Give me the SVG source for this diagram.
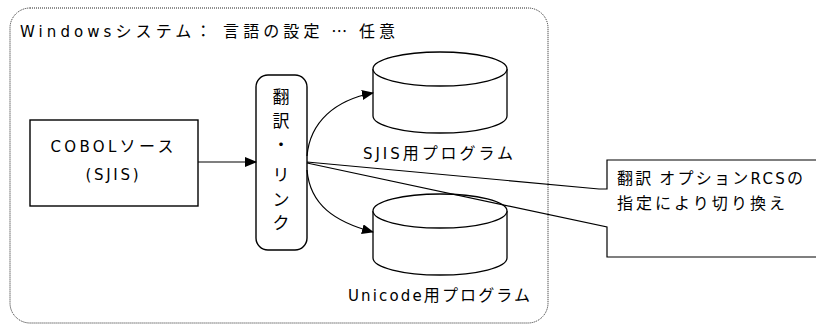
<svg xmlns="http://www.w3.org/2000/svg" width="816" height="326" viewBox="0 0 816 326">
<defs>
<marker id="ah" markerWidth="12" markerHeight="10" refX="11" refY="5" orient="auto" markerUnits="userSpaceOnUse">
<path d="M0,0 L12,5 L0,10 Z" fill="#000"/>
</marker>
<style>
text{font-family:"DejaVu Sans","Noto Sans CJK JP",sans-serif;font-size:15px;fill:#000}
.j{font-family:"Noto Sans CJK JP",sans-serif;font-size:16px}
.c{text-anchor:middle}
.v{font-size:17px}
.box{fill:#fff;stroke:#000;stroke-width:1.4}
.ln{fill:none;stroke:#000;stroke-width:1.2}
.cyl{fill:#fff;stroke:#000;stroke-width:1.3}
</style>
</defs>
<rect x="10" y="8" width="538" height="315" rx="20" ry="20" fill="none" stroke="#222" stroke-width="1" stroke-dasharray="1 1"/>
<text x="20" y="37" textLength="375" lengthAdjust="spacing">Windows<tspan class="j">システム： 言語の設定 … 任意</tspan></text>

<g id="cobol">
<rect class="box" x="30" y="120" width="168" height="86"/>
<text class="c" x="112" y="152" textLength="123" lengthAdjust="spacing">COBOL<tspan class="j">ソース</tspan></text>
<text class="c" x="112" y="180" textLength="53" lengthAdjust="spacing">(SJIS)</text>
</g>

<g id="link">
<rect class="box" x="256" y="75" width="51" height="175" rx="12" ry="12"/>
<text class="c j v" x="281" y="103">翻</text>
<text class="c j v" x="281" y="127">訳</text>
<text class="c j v" x="281" y="151">・</text>
<text class="c j v" x="281" y="181">リ</text>
<text class="c j v" x="281" y="206">ン</text>
<text class="c j v" x="281" y="229">ク</text>
</g>

<g id="sjis">
<path class="cyl" d="M373,69 L373,116 A67,17 0 0 0 507,116 L507,69"/>
<ellipse class="cyl" cx="440" cy="69" rx="67" ry="17"/>
<text class="c" x="438" y="159" textLength="150" lengthAdjust="spacing">SJIS<tspan class="j">用プログラム</tspan></text>
</g>

<g id="unicode">
<path class="cyl" d="M373,211 L373,258 A67,17 0 0 0 507,258 L507,211"/>
<ellipse class="cyl" cx="440" cy="211" rx="67" ry="17"/>
<text class="c" x="439" y="301" textLength="182" lengthAdjust="spacing">Unicode<tspan class="j">用プログラム</tspan></text>
</g>

<g id="callout">
<path class="ln" d="M307,162 L599,189 L607,189 L607,160 L830,160 L830,257 L607,257 L607,227 L307,163" stroke-width="1.3"/>
<text x="617" y="184" textLength="186" lengthAdjust="spacing"><tspan class="j">翻訳 オプション</tspan>RCS<tspan class="j">の</tspan></text>
<text class="j" x="617" y="209" textLength="168" lengthAdjust="spacing">指定により切り換え</text>
</g>

<g id="connectors">
<line class="ln" x1="198" y1="162" x2="256" y2="162" stroke-width="1.4" marker-end="url(#ah)"/>
<path class="ln" d="M307,156 C310,122 335,100 373,93" marker-end="url(#ah)"/>
<path class="ln" d="M307,170 C310,205 335,222 373,232" marker-end="url(#ah)"/>
</g>
</svg>
